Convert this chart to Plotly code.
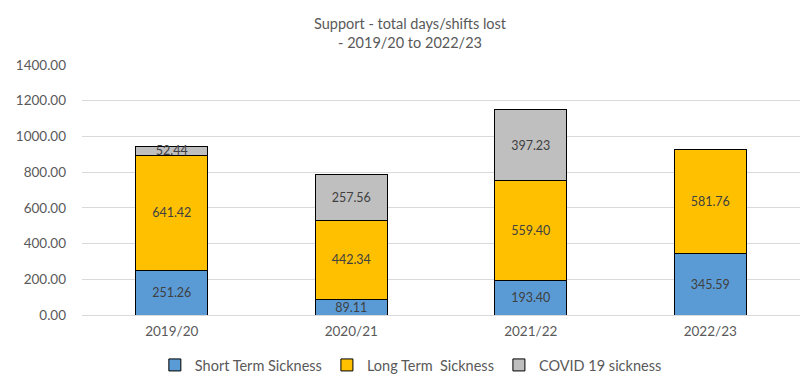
import plotly.graph_objects as go

years = ["2019/20", "2020/21", "2021/22", "2022/23"]
short_term = [251.26, 89.11, 193.40, 345.59]
long_term = [641.42, 442.34, 559.40, 581.76]
covid = [52.44, 257.56, 397.23, None]
y_ticks = [0, 200, 400, 600, 800, 1000, 1200, 1400]

series = [
    ("Short Term Sickness", short_term, "#5B9BD5"),
    ("Long Term  Sickness", long_term, "#FFC000"),
    ("COVID 19 sickness", covid, "#BFBFBF"),
]

font_family = "Lato, Carlito, 'Open Sans', sans-serif"

fig = go.Figure()
for name, vals, color in series:
    fig.add_trace(go.Bar(
        name=name,
        x=years,
        y=vals,
        marker=dict(color=color, line=dict(color="#000000", width=1)),
        text=[f"{v:.2f}" if v is not None else "" for v in vals],
        textposition="inside",
        insidetextanchor="middle",
        textfont=dict(family=font_family, size=12.5, color="#404040"),
        cliponaxis=False,
    ))

fig.add_annotation(
    text="Support - total days/shifts lost<br>- 2019/20 to 2022/23",
    xref="paper", yref="paper", x=0.457, y=1.13,
    xanchor="center", yanchor="middle", showarrow=False,
    font=dict(family=font_family, size=14.5, color="#595959"),
)

fig.update_layout(
    barmode="stack",
    bargap=0.6,
    width=804,
    height=385,
    margin=dict(l=82, r=4, t=65, b=67),
    paper_bgcolor="white",
    plot_bgcolor="white",
    font=dict(family=font_family, color="#595959", size=13.5),
    uniformtext=dict(minsize=12.5, mode="show"),
    showlegend=True,
    legend=dict(
        orientation="h", x=0.458, xanchor="center", y=-0.2, yanchor="middle",
        font=dict(size=14.5, color="#595959"), traceorder="normal",
        itemwidth=30,
    ),
    xaxis=dict(showgrid=False, showline=True, linecolor="#D9D9D9", ticks="",
               ticklabelstandoff=4,
               tickfont=dict(size=13.5, color="#595959")),
    yaxis=dict(range=[0, 1400], tickvals=y_ticks,
               ticktext=[f"{v:.2f}" for v in y_ticks],
               showgrid=True, gridcolor="#D9D9D9", gridwidth=1,
               zeroline=False, showline=False, ticks="",
               ticklabelstandoff=15,
               tickfont=dict(size=13.5, color="#595959")),
)

fig.write_html("out.html")
